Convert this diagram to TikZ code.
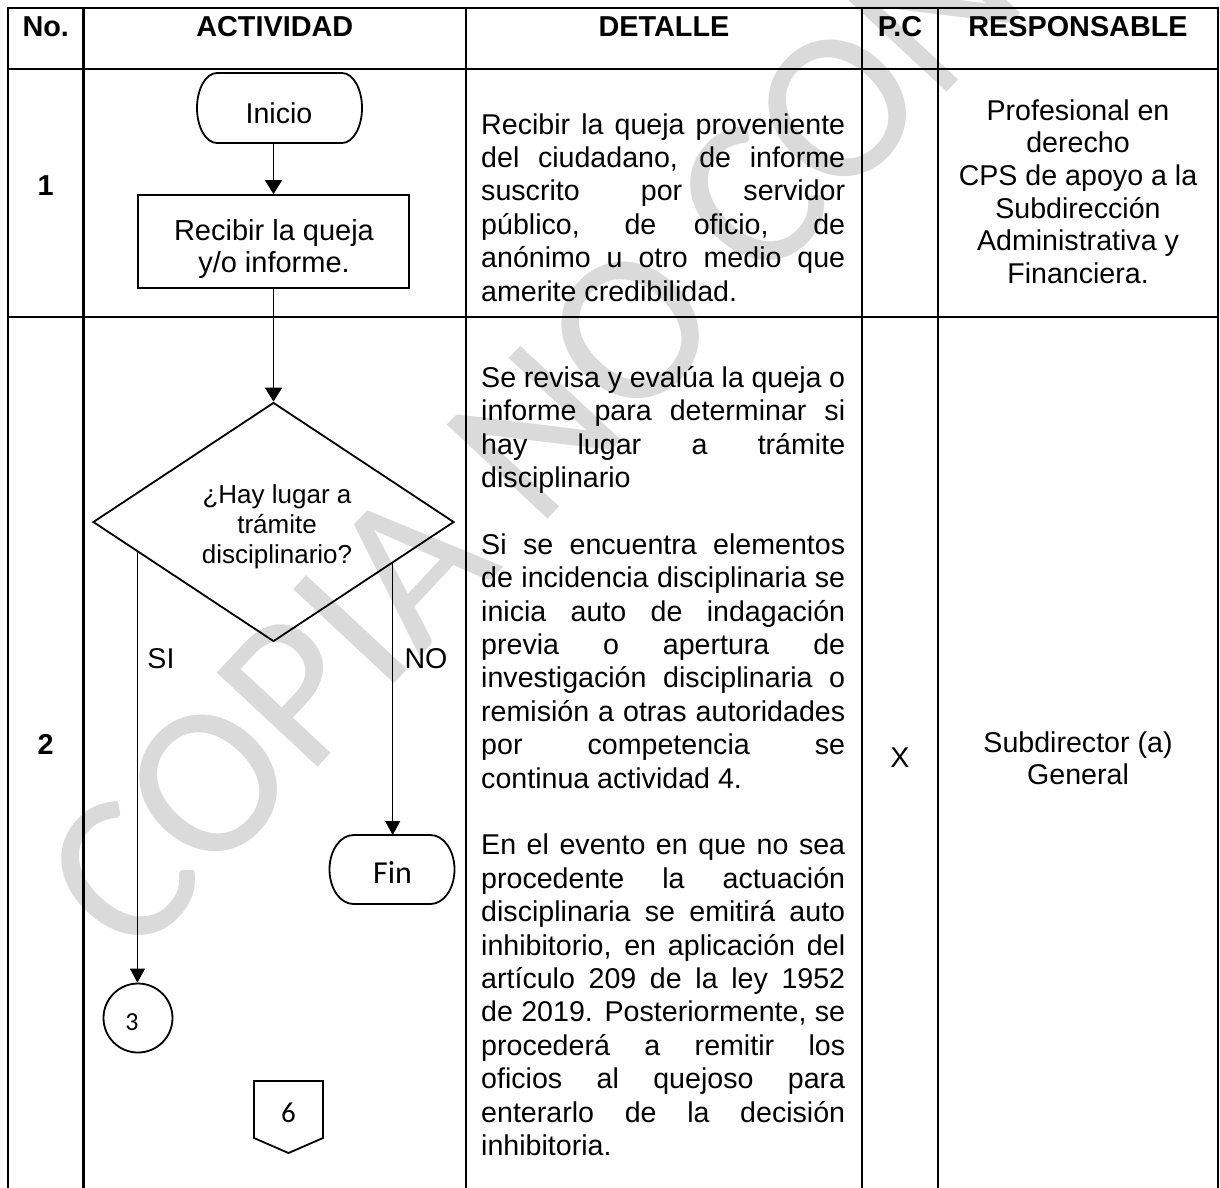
\documentclass[tikz,border=0pt]{standalone}
\usepackage{fontspec}
\setmainfont{Liberation Sans}
\newfontfamily\wmfont{Carlito}
\usetikzlibrary{arrows.meta,shapes.geometric,calc}
\definecolor{wmgray}{RGB}{218,218,218}
\newlength\dw
\setlength\dw{364pt}
\newcommand\bodyfont{\fontsize{28.6}{33.4}\selectfont}
\newcommand\hdrfont{\fontsize{28.8}{33}\selectfont\bfseries}
\newcommand\myjust[1]{\makebox[\dw][s]{\strut #1}\\}
\newcommand\myleft[1]{\makebox[\dw][l]{\strut #1}}
\begin{document}
\begin{tikzpicture}[x=1pt,y=-1pt,
  tab/.style={line width=2.6pt, line cap=rect},
  shp/.style={line width=1.8pt},
  conn/.style={line width=1.8pt, -{Triangle[length=14pt,width=17pt]}},
  thinconn/.style={line width=1pt, -{Triangle[length=14pt,width=15pt]}},
  hdr/.style={font=\hdrfont, anchor=base, inner sep=0pt},
  body/.style={font=\bodyfont, inner sep=0pt},
  ghost/.style={draw=none, inner sep=0pt, outer sep=0pt}]
\useasboundingbox (0,0) rectangle (1220,1187);
\fill[white] (0,0) rectangle (1220,1187);
% watermark
\node[rotate=47, anchor=base west, text=wmgray, inner sep=0pt,
      font=\wmfont\fontsize{215}{215}\selectfont] (wm) at (133,965) {COPIA NO CONTROLADA};
% table
\draw[tab] (8,8) -- (1218,8);
\draw[tab] (8,69) -- (1218,69);
\draw[tab] (8,317) -- (1218,317);
\foreach \x in {8,83.5,466,862,938,1218} \draw[tab] (\x,8) -- (\x,1190);
% header
\node[hdr] (hno) at (45.75,36) {No.};
\node[hdr] (hact) at (274.75,36) {ACTIVIDAD};
\node[hdr] (hdet) at (664,36) {DETALLE};
\node[hdr] (hpc) at (900,36) {P.C};
\node[hdr] (hres) at (1078,36) {RESPONSABLE};
% row numbers
\node[hdr] (n1) at (45.75,195) {1};
\node[hdr] (n2) at (45.75,754) {2};
% details
\node[body, anchor=north west, align=left] (d1) at (481,110.6) {%
\myjust{Recibir la queja proveniente}
\myjust{del ciudadano, de informe}
\myjust{suscrito por servidor}
\myjust{público, de oficio, de}
\myjust{anónimo u otro medio que}
\myleft{amerite credibilidad.}};
\node[body, anchor=north west, align=left] (d2) at (481,363.6) {%
\myjust{Se revisa y evalúa la queja o}
\myjust{informe para determinar si}
\myjust{hay lugar a trámite}
\myleft{disciplinario}\\
\myleft{}\\
\myjust{Si se encuentra elementos}
\myjust{de incidencia disciplinaria se}
\myjust{inicia auto de indagación}
\myjust{previa o apertura de}
\myjust{investigación disciplinaria o}
\myjust{remisión a otras autoridades}
\myjust{por competencia se}
\myleft{continua actividad 4.}\\
\myleft{}\\
\myjust{En el evento en que no sea}
\myjust{procedente la actuación}
\myjust{disciplinaria se emitirá auto}
\myjust{inhibitorio, en aplicación del}
\myjust{artículo 209 de la ley 1952}
\myjust{de 2019. Posteriormente, se}
\myjust{procederá a remitir los}
\myjust{oficios al quejoso para}
\myjust{enterarlo de la decisión}
\myleft{inhibitoria.}};
% P.C and responsible
\node[body, anchor=base] (pc2) at (900,767) {X};
\node[body, anchor=north, align=center, font=\fontsize{28.6}{32.6}\selectfont] (r1) at (1078,97.2) {\strut Profesional en\\derecho\\CPS de apoyo a la\\Subdirección\\Administrativa y\\Financiera.};
\node[body, anchor=north, align=center, font=\fontsize{28.6}{32.6}\selectfont] (r2) at (1078,729.2) {\strut Subdirector (a)\\General};
% flowchart
\node[ghost, minimum width=165pt, minimum height=70pt] (ini) at (279.5,108) {};
\draw[shp] ($(ini.north west)+(20,0)$) -- ($(ini.north east)+(-20,0)$)
  arc[start angle=-90,end angle=90,x radius=20,y radius=35]
  -- ($(ini.south west)+(20,0)$)
  arc[start angle=90,end angle=270,x radius=20,y radius=35] -- cycle;
\node[body, anchor=base] (initxt) at (279,123) {Inicio};
\node[draw, shp, minimum width=271pt, minimum height=93pt, inner sep=0pt] (rec) at (273.5,241.5) {};
\node[body, anchor=base, align=center, font=\fontsize{29}{32}\selectfont] (rectxt) at (274,272) {Recibir la queja\\y/o informe.};
\node[draw, shp, diamond, minimum width=361pt, minimum height=239pt, inner sep=0pt] (dec) at (273.5,522) {};
\node[anchor=base, align=center, inner sep=0pt, font=\fontsize{26}{30}\selectfont] (dectxt) at (277,563) {¿Hay lugar a\\trámite\\disciplinario?};
\node[ghost, minimum width=125pt, minimum height=69pt] (fin) at (392,869.5) {};
\draw[shp] ($(fin.north west)+(24,0)$) -- ($(fin.north east)+(-24,0)$)
  arc[start angle=-90,end angle=90,x radius=24,y radius=34.5]
  -- ($(fin.south west)+(24,0)$)
  arc[start angle=90,end angle=270,x radius=24,y radius=34.5] -- cycle;
\node[anchor=base, inner sep=0pt, font=\wmfont\fontsize{32}{34}\selectfont] (fintxt) at (392.5,883) {Fin};
\node[draw, shp, circle, minimum size=69pt, inner sep=0pt] (c3) at (138,1018) {};
\node[anchor=base, inner sep=0pt, font=\wmfont\fontsize{26}{28}\selectfont] (c3txt) at (132,1030) {3};
\node[ghost, minimum width=69pt, minimum height=72pt] (p6) at (288.5,1117) {};
\draw[shp] (p6.north west) -- (p6.north east) -- ($(p6.south east)+(0,-15)$) -- (p6.south) -- ($(p6.south west)+(0,-15)$) -- cycle;
\node[anchor=base, inner sep=0pt, font=\wmfont\fontsize{29}{31}\selectfont] (p6txt) at (288.5,1122) {6};
% connectors
\draw[conn] (rec.north |- ini.south) -- (rec.north);
\draw[conn] (rec.south) -- (dec.north);
\coordinate (siA) at ($(dec.west)!0.25!(dec.south)$);
\coordinate (noA) at ($(dec.east)!0.343!(dec.south)$);
\draw[thinconn] (siA) -- (siA |- c3.north);
\draw[thinconn] (noA) -- (noA |- fin.north);
\node[body, anchor=base] (lsi) at (161,668) {SI};
\node[body, anchor=base] (lno) at (426,668) {NO};
\end{tikzpicture}
\end{document}
